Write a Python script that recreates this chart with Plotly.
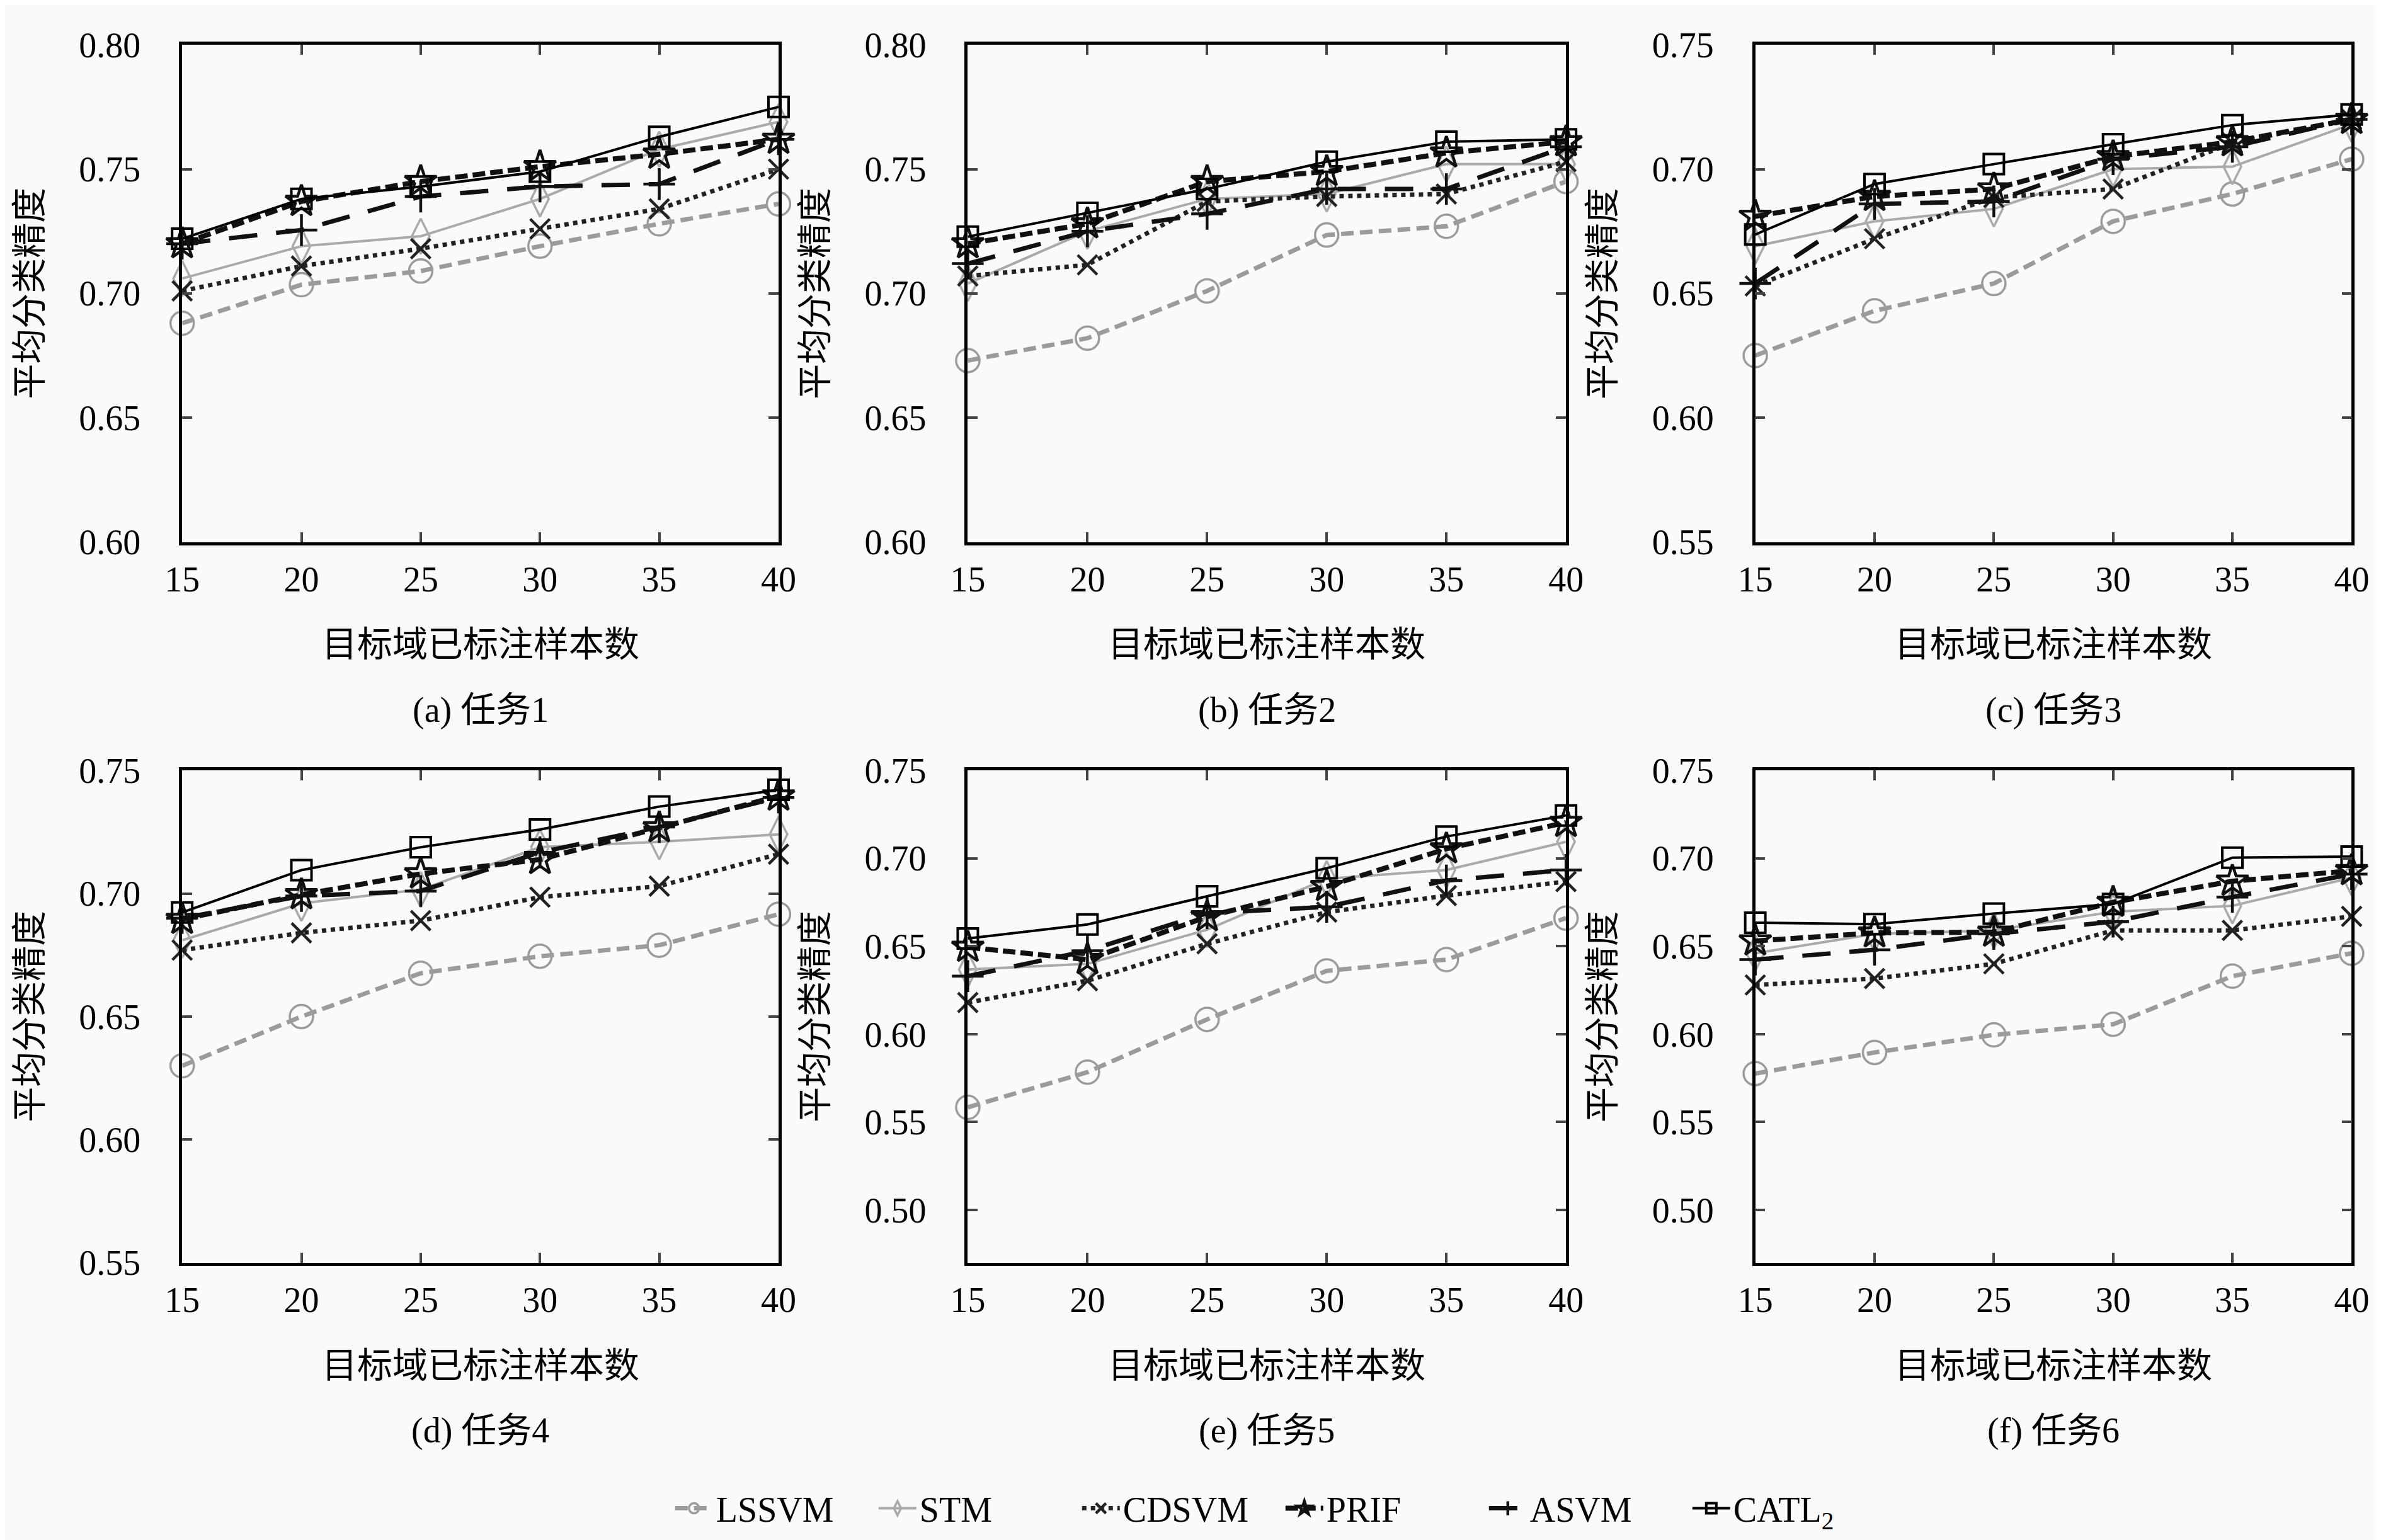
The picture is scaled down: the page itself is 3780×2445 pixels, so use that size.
import plotly.graph_objects as go
from plotly.subplots import make_subplots

# number of labelled target samples
x_vals = [15, 20, 25, 30, 35, 40]

methods = ["LSSVM", "STM", "CDSVM", "PRIF", "ASVM", "CATL<sub>2</sub>"]
captions = ["(a) 任务1", "(b) 任务2", "(c) 任务3", "(d) 任务4", "(e) 任务5", "(f) 任务6"]

# one row per task (1..6)
lssvm = [
    [0.688, 0.7035, 0.709, 0.719, 0.728, 0.736],
    [0.673, 0.682, 0.701, 0.7235, 0.727, 0.745],
    [0.625, 0.643, 0.654, 0.679, 0.690, 0.704],
    [0.630, 0.650, 0.6676, 0.6745, 0.679, 0.6916],
    [0.5584, 0.5784, 0.6084, 0.636, 0.6424, 0.666],
    [0.5776, 0.5896, 0.5996, 0.6056, 0.633, 0.646],
]
stm = [
    [0.706, 0.719, 0.723, 0.738, 0.758, 0.769],
    [0.704, 0.725, 0.738, 0.740, 0.752, 0.752],
    [0.669, 0.679, 0.684, 0.700, 0.701, 0.718],
    [0.681, 0.696, 0.7016, 0.7188, 0.721, 0.724],
    [0.6368, 0.640, 0.6594, 0.6884, 0.6934, 0.7094],
    [0.646, 0.657, 0.659, 0.6696, 0.673, 0.689],
]
cdsvm = [
    [0.701, 0.711, 0.718, 0.726, 0.734, 0.750],
    [0.707, 0.7115, 0.737, 0.739, 0.740, 0.753],
    [0.653, 0.672, 0.6886, 0.692, 0.7105, 0.720],
    [0.677, 0.684, 0.689, 0.6985, 0.703, 0.716],
    [0.618, 0.6304, 0.6514, 0.6694, 0.6788, 0.6868],
    [0.628, 0.6316, 0.640, 0.659, 0.659, 0.667],
]
prif = [
    [0.720, 0.737, 0.745, 0.751, 0.756, 0.762],
    [0.720, 0.728, 0.745, 0.749, 0.7565, 0.761],
    [0.681, 0.689, 0.692, 0.705, 0.711, 0.720],
    [0.6895, 0.6995, 0.708, 0.7138, 0.7267, 0.7396],
    [0.6494, 0.6424, 0.6668, 0.684, 0.7054, 0.7204],
    [0.653, 0.6576, 0.658, 0.675, 0.687, 0.693],
]
asvm = [
    [0.720, 0.7255, 0.739, 0.743, 0.744, 0.762],
    [0.712, 0.725, 0.732, 0.742, 0.742, 0.759],
    [0.654, 0.686, 0.687, 0.704, 0.709, 0.720],
    [0.690, 0.699, 0.701, 0.7167, 0.727, 0.739],
    [0.633, 0.6474, 0.6688, 0.6724, 0.6874, 0.6934],
    [0.6424, 0.648, 0.657, 0.664, 0.678, 0.691],
]
catl2 = [
    [0.722, 0.738, 0.743, 0.749, 0.763, 0.775],
    [0.7228, 0.7324, 0.742, 0.753, 0.761, 0.762],
    [0.6737, 0.694, 0.702, 0.710, 0.7177, 0.722],
    [0.6923, 0.7095, 0.7188, 0.726, 0.7353, 0.7421],
    [0.6544, 0.6624, 0.6784, 0.6944, 0.7124, 0.7244],
    [0.6634, 0.6626, 0.6686, 0.674, 0.7004, 0.701],
]

y_ranges = [[0.60, 0.80], [0.60, 0.80], [0.55, 0.75], [0.55, 0.75], [0.47, 0.75], [0.47, 0.75]]
y_ticks = [
    [0.60, 0.65, 0.70, 0.75, 0.80],
    [0.60, 0.65, 0.70, 0.75, 0.80],
    [0.55, 0.60, 0.65, 0.70, 0.75],
    [0.55, 0.60, 0.65, 0.70, 0.75],
    [0.50, 0.55, 0.60, 0.65, 0.70, 0.75],
    [0.50, 0.55, 0.60, 0.65, 0.70, 0.75],
]

W, H = 3780, 2445
FONT = "Liberation Serif, Noto Sans CJK SC, serif"
FS = 56
TICK_FS = 56

# pixel boxes of the plot areas (left, right) and (top, bottom)
cols_px = [(257, 1218), (1523, 2487), (2792, 3753)]
rows_px = [(34, 844), (1216, 2018)]

styles = [
    dict(line=dict(color="#9b9b9b", width=7, dash="20px,10px"),
         marker=dict(symbol="circle-open", size=37, color="#9b9b9b", line=dict(width=3.5))),
    dict(line=dict(color="#aaaaaa", width=4),
         marker=dict(symbol="diamond-tall-open", size=40, color="#aaaaaa", line=dict(width=3.5))),
    dict(line=dict(color="#222222", width=7, dash="7px,7px"),
         marker=dict(symbol="x-thin-open", size=31, color="#222222", line=dict(width=4.5))),
    dict(line=dict(color="#111111", width=8, dash="20px,8px"),
         marker=dict(symbol="star-open", size=38, color="#111111", line=dict(width=4.5))),
    dict(line=dict(color="#111111", width=7, dash="45px,30px"),
         marker=dict(symbol="cross-thin-open", size=36, color="#111111", line=dict(width=4.5))),
    dict(line=dict(color="#000000", width=4),
         marker=dict(symbol="square-open", size=32, color="#000000", line=dict(width=4))),
]

series = [lssvm, stm, cdsvm, prif, asvm, catl2]

fig = make_subplots(rows=2, cols=3)

for t in range(6):
    r, c = t // 3 + 1, t % 3 + 1
    for m in range(6):
        fig.add_trace(go.Scatter(x=x_vals, y=series[m][t], mode="lines+markers",
                                 name=methods[m], showlegend=(t == 0), cliponaxis=False,
                                 line=styles[m]["line"], marker=styles[m]["marker"]),
                      row=r, col=c)

annotations = []
for t in range(6):
    ri, ci = t // 3, t % 3
    l, rr = cols_px[ci]
    top, bot = rows_px[ri]
    xd = [l / W, rr / W]
    yd = [1 - bot / H, 1 - top / H]
    sfx = "" if t == 0 else str(t + 1)
    fig.layout["xaxis" + sfx].update(
        domain=xd, range=[15, 40], tickvals=x_vals, ticks="inside", ticklen=16, tickwidth=4,
        showline=True, linewidth=4.5, linecolor="black", mirror="ticks", showgrid=False,
        zeroline=False, tickfont=dict(family=FONT, size=TICK_FS, color="black"),
        ticklabelstandoff=6)
    fig.layout["yaxis" + sfx].update(
        domain=yd, range=y_ranges[t], tickvals=y_ticks[t], tickformat=".2f", ticks="inside",
        ticklen=16, tickwidth=4, showline=True, linewidth=4.5, linecolor="black", mirror="ticks",
        showgrid=False, zeroline=False, tickfont=dict(family=FONT, size=TICK_FS, color="black"),
        ticklabelstandoff=50)
    xc = (l + rr) / 2 / W
    annotations.append(dict(text="目标域已标注样本数", x=xc, y=1 - (bot + 167) / H, xref="paper",
                            yref="paper", showarrow=False, xanchor="center", yanchor="middle",
                            font=dict(family=FONT, size=FS, color="black")))
    annotations.append(dict(text=captions[t], x=xc, y=1 - (bot + 274) / H, xref="paper",
                            yref="paper", showarrow=False, xanchor="center", yanchor="middle",
                            font=dict(family=FONT, size=FS, color="black")))
    annotations.append(dict(text="平均分类精度", x=(l - 246) / W, y=1 - (top + bot) / 2 / H,
                            xref="paper", yref="paper", showarrow=False, textangle=-90,
                            xanchor="center", yanchor="middle",
                            font=dict(family=FONT, size=FS, color="black")))

fig.update_layout(
    width=W, height=H,
    margin=dict(l=0, r=0, t=0, b=0),
    paper_bgcolor="#fafafa", plot_bgcolor="#fafafa",
    font=dict(family=FONT, size=FS, color="black"),
    annotations=annotations,
    legend=dict(orientation="h", x=0.537, y=1 - 2418 / H, xanchor="center", yanchor="middle",
                font=dict(family=FONT, size=TICK_FS, color="black"), bgcolor="rgba(0,0,0,0)",
                itemwidth=60, entrywidth=248, entrywidthmode="pixels"),
)

fig.write_html("out.html")
